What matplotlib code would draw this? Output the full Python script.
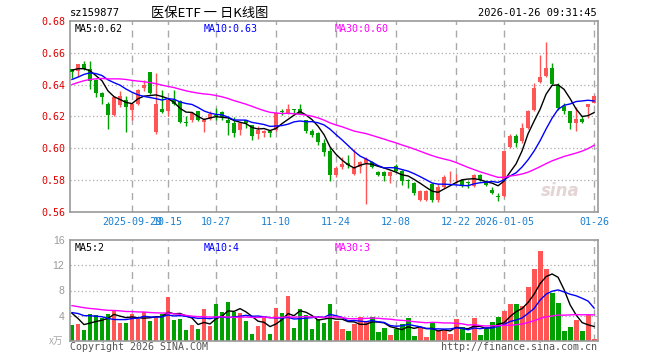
import numpy as np
import pandas as pd
import matplotlib
matplotlib.use('Agg')
import matplotlib.pyplot as plt

# Données (88 séances, 2025-09-15 -> 2026-01-26)
opens = [0.6495, 0.6487, 0.653, 0.6495, 0.643, 0.635, 0.628, 0.621, 0.627, 0.630,
         0.624, 0.628, 0.638, 0.648, 0.610, 0.6245, 0.6235, 0.6302, 0.6297, 0.6165,
         0.6177, 0.6234, 0.6166, 0.6183, 0.621, 0.6227, 0.6177, 0.616, 0.6114, 0.6177,
         0.6145, 0.6087, 0.6097, 0.611, 0.6114, 0.6232, 0.6219, 0.6246, 0.6246, 0.6177,
         0.611, 0.6097, 0.6034, 0.5984, 0.583, 0.5879, 0.5905, 0.5835, 0.5879, 0.5908,
         0.5914, 0.5851, 0.5851, 0.5824, 0.5888, 0.5857, 0.580, 0.5783, 0.5674, 0.5674,
         0.5775, 0.5674, 0.5754, 0.5828, 0.5828, 0.580, 0.5785, 0.5762, 0.5832, 0.5796,
         0.5737, 0.570, 0.570, 0.601, 0.6077, 0.6047, 0.6129, 0.624, 0.6415, 0.6457,
         0.6507, 0.6398, 0.6266, 0.6234, 0.616, 0.6186, 0.6257, 0.6287]
closes = [0.648, 0.653, 0.650, 0.642, 0.635, 0.632, 0.621, 0.632, 0.633, 0.626,
          0.628, 0.6365, 0.640, 0.635, 0.628, 0.623, 0.630, 0.628, 0.6164, 0.616,
          0.6219, 0.6177, 0.618, 0.6215, 0.620, 0.6198, 0.616, 0.6097, 0.616, 0.6156,
          0.6076, 0.6114, 0.611, 0.6097, 0.6223, 0.6228, 0.6246, 0.6243, 0.6215, 0.611,
          0.6082, 0.604, 0.5977, 0.583, 0.5877, 0.590, 0.5893, 0.5877, 0.5914, 0.5929,
          0.5879, 0.583, 0.5824, 0.5851, 0.5859, 0.5796, 0.5795, 0.5716, 0.5731, 0.5731,
          0.5674, 0.5758, 0.5821, 0.5832, 0.5832, 0.5762, 0.578, 0.5832, 0.580, 0.5768,
          0.572, 0.5695, 0.5984, 0.6077, 0.603, 0.6129, 0.6234, 0.6379, 0.645, 0.6507,
          0.6404, 0.6251, 0.6236, 0.616, 0.6182, 0.6167, 0.6278, 0.6331]
highs = [0.650, 0.6532, 0.655, 0.655, 0.6435, 0.6355, 0.629, 0.633, 0.636, 0.633,
         0.6285, 0.637, 0.6428, 0.648, 0.647, 0.6365, 0.631, 0.6365, 0.630, 0.620,
         0.623, 0.6236, 0.619, 0.6234, 0.625, 0.6235, 0.620, 0.6194, 0.6165, 0.618,
         0.6148, 0.6141, 0.6112, 0.6112, 0.623, 0.6245, 0.6277, 0.6248, 0.6277, 0.618,
         0.612, 0.610, 0.6055, 0.600, 0.589, 0.5942, 0.5956, 0.5993, 0.5918, 0.5946,
         0.5918, 0.5853, 0.5853, 0.5853, 0.590, 0.586, 0.5805, 0.5785, 0.5738, 0.5735,
         0.578, 0.5775, 0.5832, 0.5853, 0.5838, 0.5805, 0.5792, 0.5838, 0.5838, 0.580,
         0.5753, 0.5716, 0.599, 0.609, 0.609, 0.616, 0.6241, 0.641, 0.6587, 0.6665,
         0.6534, 0.6408, 0.6287, 0.6234, 0.6261, 0.6203, 0.6278, 0.6336]
lows = [0.644, 0.645, 0.649, 0.6373, 0.632, 0.628, 0.612, 0.620, 0.626, 0.610,
        0.618, 0.627, 0.636, 0.634, 0.609, 0.622, 0.620, 0.627, 0.616, 0.614,
        0.6166, 0.617, 0.610, 0.618, 0.6177, 0.618, 0.608, 0.6072, 0.608, 0.6124,
        0.605, 0.6057, 0.6072, 0.6072, 0.611, 0.621, 0.6215, 0.6212, 0.6212, 0.6097,
        0.607, 0.602, 0.595, 0.5795, 0.5816, 0.587, 0.5872, 0.583, 0.5845, 0.565,
        0.5875, 0.5824, 0.5795, 0.578, 0.585, 0.577, 0.575, 0.5706, 0.5668, 0.5668,
        0.5663, 0.5663, 0.5746, 0.5779, 0.5779, 0.5755, 0.5748, 0.5755, 0.5795, 0.5762,
        0.5712, 0.567, 0.5694, 0.600, 0.601, 0.603, 0.6122, 0.6234, 0.6408, 0.645,
        0.6395, 0.624, 0.6213, 0.612, 0.611, 0.616, 0.619, 0.6282]
volumes = [2.6, 2.75, 1.7, 4.3, 4.1, 3.6, 4.2, 4.9, 2.9, 2.9,
           4.2, 3.5, 4.6, 3.2, 3.7, 4.3, 7.0, 3.35, 3.5, 1.7,
           2.6, 1.9, 5.0, 2.3, 5.8, 4.65, 6.1, 4.6, 4.5, 3.2,
           1.1, 2.3, 3.7, 1.1, 5.3, 4.5, 7.1, 2.05, 5.0, 4.1,
           1.9, 3.5, 2.9, 5.8, 3.2, 1.9, 1.55, 2.7, 3.85, 3.2,
           3.85, 1.4, 2.05, 0.9, 1.95, 2.7, 3.7, 0.75, 2.05, 0.6,
           3.0, 1.55, 1.7, 1.1, 3.5, 2.2, 1.25, 3.7, 0.9, 1.9,
           3.0, 3.85, 4.8, 5.8, 5.8, 5.5, 8.6, 11.35, 14.2, 11.35,
           7.6, 5.95, 1.55, 2.2, 3.35, 1.55, 4.15, 0.25]

# séances avant la fenêtre (estimées) pour que les moyennes mobiles démarrent correctement
pre_close = [0.614, 0.616, 0.619, 0.622, 0.626, 0.629, 0.631, 0.634, 0.637, 0.645,
             0.650, 0.652, 0.651, 0.649, 0.651, 0.653, 0.650, 0.648, 0.646, 0.645,
             0.638, 0.633, 0.632, 0.640, 0.644, 0.648, 0.650, 0.6485, 0.6505]
pre_volume = [7.5, 6.8, 7.9, 6.5, 7.2, 6.9, 5.6, 4.8, 5.9, 4.6,
              5.3, 4.9, 5.7, 5.1, 5.2, 6.8, 7.2, 6.1, 6.5, 6.5,
              4.2, 5.1, 4.4, 4.9, 4.4, 6.9, 6.55, 3.1, 2.85]

tick_pos = [10, 16, 24, 34, 44, 54, 64, 72, 87]
tick_labels = ['2025-09-29', '10-15', '10-27', '11-10', '11-24', '12-08', '12-22', '2026-01-05', '01-26']
price_ticks = [0.56, 0.58, 0.60, 0.62, 0.64, 0.66, 0.68]
vol_ticks = [4, 8, 12, 16]

RED = '#ff5555'
GREEN = '#00a000'
GRID = '#aaaaaa'
MONO = 'DejaVu Sans Mono'

o = np.array(opens); c = np.array(closes); h = np.array(highs); l = np.array(lows)
v = np.array(volumes)
n = len(c)
x = np.arange(n)
n_pre = len(pre_close)


def moving_avg(hist, vals, w):
    s = pd.Series(np.concatenate([hist, vals]))
    return s.rolling(w).mean().to_numpy()[n_pre:]


up = c >= o
cols = np.where(up, RED, GREEN)

fig = plt.figure(figsize=(6.6, 3.6), dpi=100)
ax1 = fig.add_axes([70 / 660, 1 - 211.7 / 360, 528 / 660, 190.7 / 360])
ax2 = fig.add_axes([70 / 660, 1 - 341 / 360, 528 / 660, 101 / 360])

for ax in (ax1, ax2):
    ax.set_xlim(-0.33, 87.65)
    for s in ax.spines.values():
        s.set_color('#999999')
        s.set_linewidth(1.2)
    for p in tick_pos:
        ax.axvline(p, color=GRID, lw=1, ls=(0, (5, 4)), zorder=0)
    ax.tick_params(length=0)

# --- panneau des prix ---
ax1.set_ylim(0.56, 0.68)
for yv in price_ticks[1:-1]:
    ax1.axhline(yv, color=GRID, lw=0.9, ls=(0, (1, 2)), zorder=0)
ax1.vlines(x, l, h, colors=cols, lw=1, zorder=2)
ax1.bar(x, np.maximum(np.abs(c - o), 0.0004), bottom=np.minimum(o, c), width=0.75,
        color=cols, zorder=3)
ax1.plot(x, moving_avg(pre_close, c, 5), color='black', lw=1, zorder=4)
ax1.plot(x, moving_avg(pre_close, c, 10), color='#0000ff', lw=1, zorder=4)
ax1.plot(x, moving_avg(pre_close, c, 30), color='#ff00ff', lw=1, zorder=4)
ax1.set_yticks(price_ticks, ['%.2f' % t for t in price_ticks])
ax1.tick_params(axis='y', colors='#dd0000', labelsize=7.2, pad=3)
for t in ax1.get_yticklabels():
    t.set_fontfamily(MONO)
ax1.set_xticks(tick_pos, tick_labels)
ax1.tick_params(axis='x', colors='#1a7fd0', labelsize=7.2, pad=4)
for t in ax1.get_xticklabels():
    t.set_fontfamily(MONO)

ax1.text(0.008, 0.985, 'MA5:0.62', transform=ax1.transAxes, color='black',
         fontsize=7.2, family=MONO, va='top')
ax1.text(0.254, 0.985, 'MA10:0.63', transform=ax1.transAxes, color='#0000ff',
         fontsize=7.2, family=MONO, va='top')
ax1.text(0.5015, 0.985, 'MA30:0.60', transform=ax1.transAxes, color='#ff00ff',
         fontsize=7.2, family=MONO, va='top')
# filigrane sina
ax1.text(0.965, 0.06, 'sina', transform=ax1.transAxes, color='#e4d4d4',
         fontsize=12, fontweight='bold', style='italic', ha='right', va='bottom', zorder=1)

# --- panneau des volumes ---
ax2.set_ylim(0, 16)
for yv in vol_ticks[:-1]:
    ax2.axhline(yv, color=GRID, lw=0.9, ls=(0, (1, 2)), zorder=0)
ax2.bar(x, v, width=0.82, color=cols, zorder=2)
ax2.plot(x, moving_avg(pre_volume, v, 5), color='black', lw=1, zorder=4)
ax2.plot(x, moving_avg(pre_volume, v, 10), color='#0000ff', lw=1, zorder=4)
ax2.plot(x, moving_avg(pre_volume, v, 30), color='#ff00ff', lw=1, zorder=4)
ax2.set_yticks(vol_ticks, [str(t) for t in vol_ticks])
ax2.tick_params(axis='y', colors='#999999', labelsize=7.5, pad=4)
for t in ax2.get_yticklabels():
    t.set_fontfamily('Liberation Sans')
ax2.set_xticks(tick_pos, [])
ax2.text(0.008, 0.97, 'MA5:2', transform=ax2.transAxes, color='black',
         fontsize=7.2, family=MONO, va='top')
ax2.text(0.254, 0.97, 'MA10:4', transform=ax2.transAxes, color='#0000ff',
         fontsize=7.2, family=MONO, va='top')
ax2.text(0.5015, 0.97, 'MA30:3', transform=ax2.transAxes, color='#ff00ff',
         fontsize=7.2, family=MONO, va='top')

# --- textes de la figure ---
fig.text(70 / 660, 1 - 13 / 360, 'sz159877', fontsize=7.5, family=MONO, va='center')
fig.text(210 / 660, 1 - 13 / 360, '医保ETF 一 日K线图', fontsize=9.5,
         family=['Noto Sans CJK SC', 'DejaVu Sans'], ha='center', va='center')
fig.text(597 / 660, 1 - 13 / 360, '2026-01-26 09:31:45', fontsize=7.5, family=MONO,
         ha='right', va='center')
fig.text(63 / 660, 1 - 341 / 360, 'x万', fontsize=7, color='#aaaaaa', style='italic',
         family=['Noto Sans CJK SC', 'DejaVu Sans'], ha='right', va='center')
fig.text(70 / 660, 1 - 347 / 360, 'Copyright 2026 SINA.COM', fontsize=7.2, family=MONO,
         color='#555555', va='center')
fig.text(597 / 660, 1 - 347 / 360, 'http://finance.sina.com.cn', fontsize=7.2,
         family=MONO, color='#555555', ha='right', va='center')

fig.savefig('out.png', dpi=100)
